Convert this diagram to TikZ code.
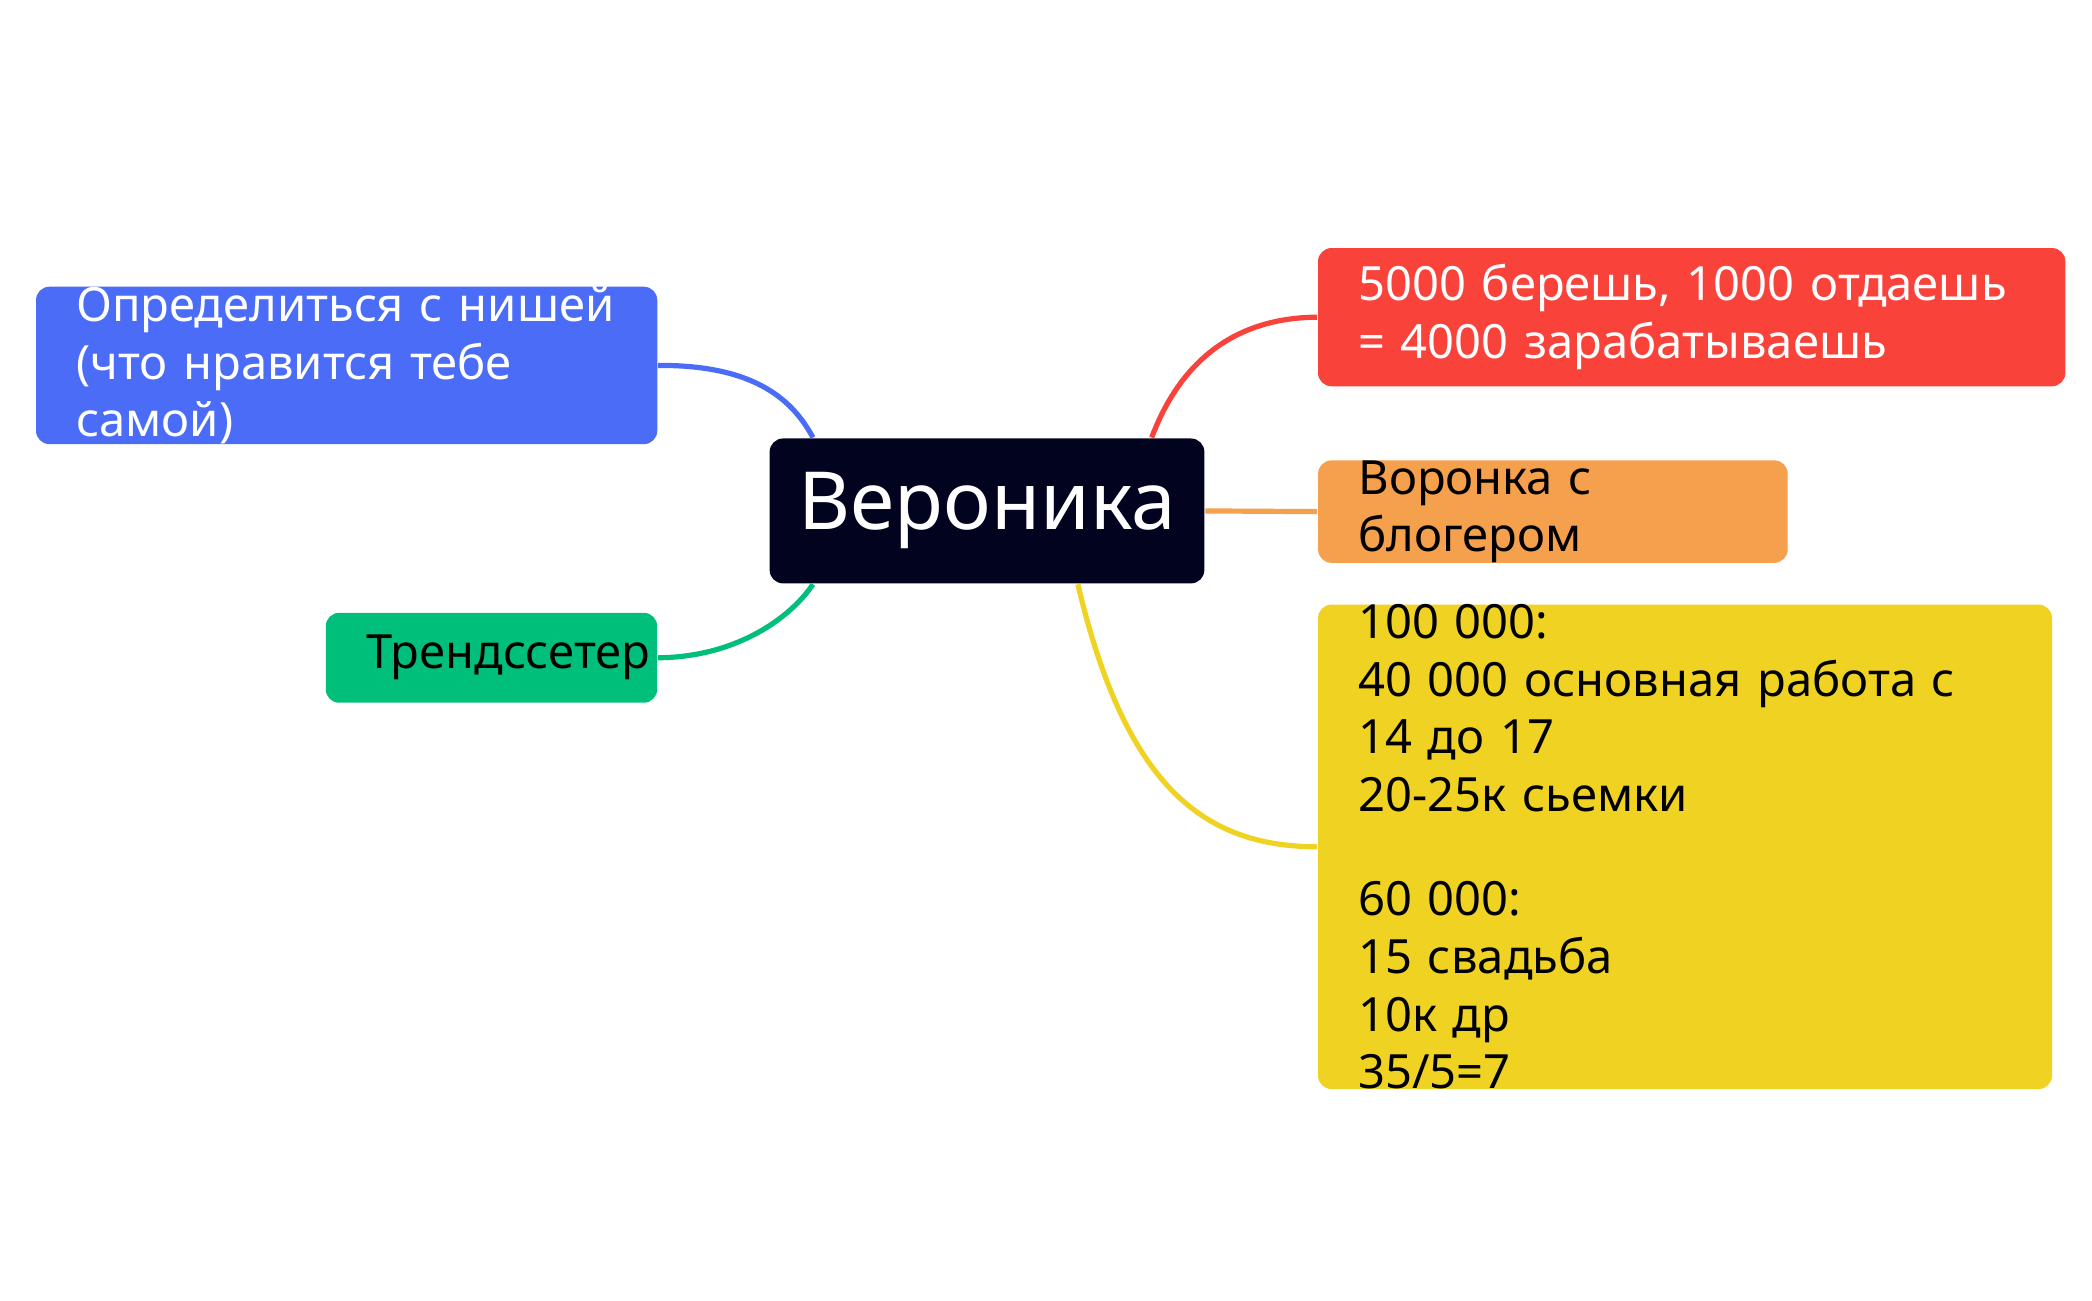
\documentclass[tikz,border=0pt]{standalone}
\usepackage{fontspec}
\setmainfont{Noto Sans}
\usepackage{tikz}
\usetikzlibrary{positioning,calc}
\definecolor{topicblue}{HTML}{4A6CF7}
\definecolor{topicgreen}{HTML}{00BF7A}
\definecolor{topicred}{HTML}{F9423A}
\definecolor{topicorange}{HTML}{F5A04C}
\definecolor{topicyellow}{HTML}{F0D322}
\definecolor{rootdark}{HTML}{02031F}

\begin{document}
\begin{tikzpicture}[
    x=0.01cm, y=-0.01cm,
    topic/.style={rectangle, rounded corners=0.1cm, align=left, inner sep=0pt, font=\fontsize{10}{12.2}\selectfont\bfseries},
    root/.style={rectangle, rounded corners=0.1cm, fill=rootdark, text=white, align=center, minimum width=3.24cm, minimum height=1.08cm, font=\fontsize{17}{20}\selectfont\bfseries},
    branch/.style={line width=1.1pt}
]
\useasboundingbox (0,0) rectangle (1560,970);

% Central topic
\node[root] (veronika) at (736,381) {Вероника};

% Left topics
\node[topic, fill=topicblue, text=white, minimum width=4.63cm, minimum height=1.03cm, text width=4.03cm] (niche) at (258.5,272.5) {Определиться с нишей (что нравится тебе самой)};
\node[topic, fill=topicgreen, minimum width=2.47cm, minimum height=0.67cm, text width=1.87cm] (trend) at (366.5,490.5) {Трендссетер};

% Right topics
\node[topic, fill=topicred, text=white, minimum width=5.57cm, minimum height=1.03cm, text width=4.97cm] (income) at (1261.5,236.5) {5000 берешь, 1000 отдаешь = 4000 зарабатываешь};
\node[topic, fill=topicorange, minimum width=3.5cm, minimum height=0.67cm, text width=2.9cm] (funnel) at (1158,381.5) {Воронка с блогером};
\node[topic, fill=topicyellow, minimum width=5.47cm, minimum height=3.13cm, text width=4.87cm] (plan) at (1256.5,631.5) {100 000:\\40 000 основная работа с 14 до 17\\20-25к сьемки\\[0.35cm]60 000:\\15 свадьба\\10к др\\35/5=7};

% Branch ends on the central topic
\coordinate (ntop) at ($(veronika.north west)+(33,0)$);
\coordinate (nbot) at ($(veronika.south west)+(33,0)$);
\coordinate (rtop) at ($(veronika.north east)+(-40,0)$);
\coordinate (rbot) at ($(veronika.south east)+(-95,0)$);

% Branches
\draw[branch, topicblue] (niche.east) .. controls (565,272) and (592,300) .. (ntop);
\draw[branch, topicgreen] (trend.east) .. controls (550,490) and (590,460) .. (nbot);
\draw[branch, topicred] (rtop) .. controls (880,270) and (920,237) .. (income.west);
\draw[branch, topicorange] (veronika.east) -- (funnel.west);
\draw[branch, topicyellow] (rbot) .. controls (840,590) and (900,631) .. (plan.west);

\end{tikzpicture}
\end{document}
